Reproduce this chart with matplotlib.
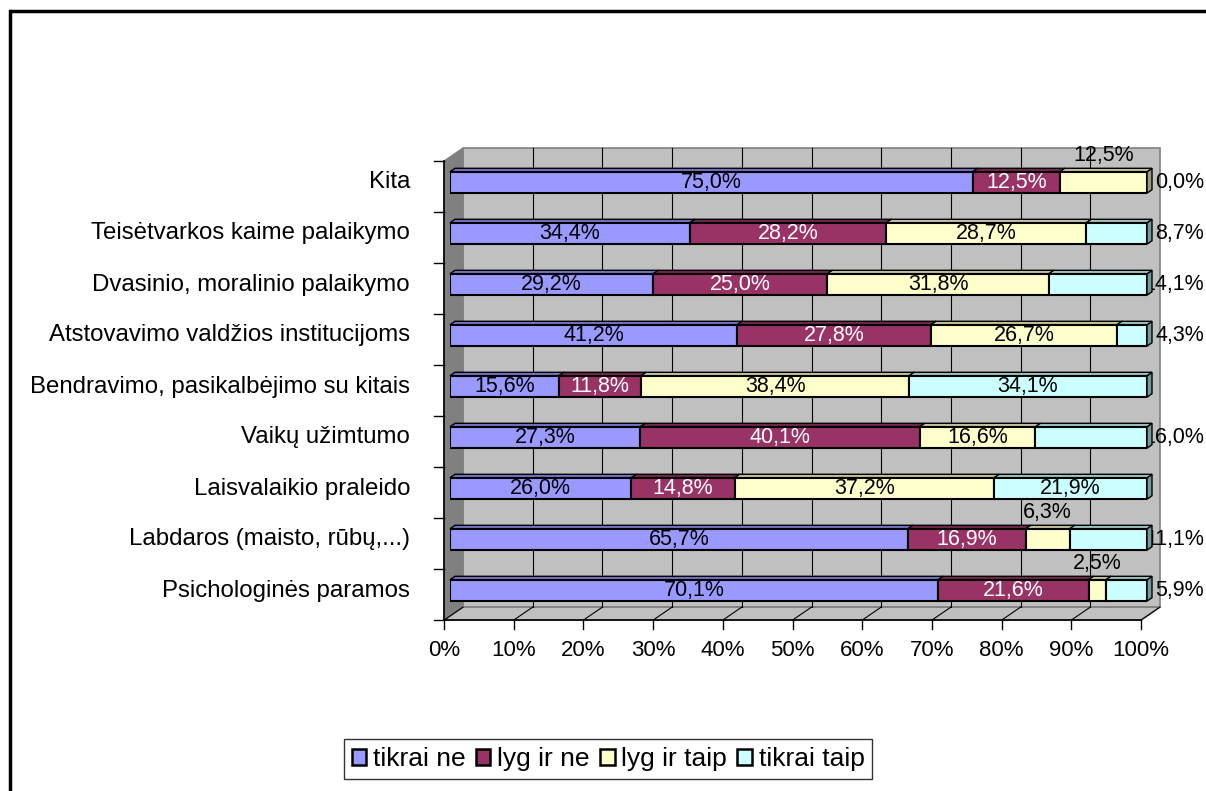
# stacked 100% bar chart with a fake 3D look (excel style)

import matplotlib.pyplot as plt
from matplotlib.patches import Polygon, Rectangle, Patch

plt.rcParams['font.family'] = ['Liberation Sans', 'DejaVu Sans']

# data, bottom row first
categories = ["Psichologinės paramos", "Labdaros (maisto, rūbų,...)", "Laisvalaikio praleido",
              "Vaikų užimtumo", "Bendravimo, pasikalbėjimo su kitais",
              "Atstovavimo valdžios institucijoms", "Dvasinio, moralinio palaikymo",
              "Teisėtvarkos kaime palaikymo", "Kita"]
tikrai_ne = [70.1, 65.7, 26.0, 27.3, 15.6, 41.2, 29.2, 34.4, 75.0]
lyg_ir_ne = [21.6, 16.9, 14.8, 40.1, 11.8, 27.8, 25.0, 28.2, 12.5]
lyg_ir_taip = [2.5, 6.3, 37.2, 16.6, 38.4, 26.7, 31.8, 28.7, 12.5]
tikrai_taip = [5.9, 11.1, 21.9, 16.0, 34.1, 4.3, 14.1, 8.7, 0.0]
series_names = ["tikrai ne", "lyg ir ne", "lyg ir taip", "tikrai taip"]
x_ticks = [0, 10, 20, 30, 40, 50, 60, 70, 80, 90, 100]

series = [tikrai_ne, lyg_ir_ne, lyg_ir_taip, tikrai_taip]

# where the value label goes: in the bar, above it or right of it
label_pos = [
    ['in'] * 9,
    ['in'] * 9,
    ['above', 'above', 'in', 'in', 'in', 'in', 'in', 'in', 'above'],
    ['right', 'right', 'in', 'right', 'in', 'right', 'right', 'right', 'right'],
]

fronts = ['#9999ff', '#993366', '#ffffcc', '#ccffff']
tops = ['#7070c0', '#70264a', '#c0c099', '#99c0c0']
sides = ['#5c5ca0', '#5c1f3d', '#9a9a7a', '#6f9a9a']
text_cols = ['black', 'white', 'black', 'black']

FS_VAL = 15.5   # value labels
FS_CAT = 17.3   # category names
FS_TICK = 16    # x tick labels
FS_LEG = 19     # legend

fig = plt.figure(figsize=(12.06, 7.91), dpi=100)
# axes = front plane of the bars
ax = fig.add_axes([450 / 1206, (791 - 616) / 791, 697 / 1206, 459 / 791])
ax.set_xlim(0, 100)
ax.set_ylim(-0.5, 8.5)
ax.axis('off')

# pixel -> data unit helpers
PX_X = 697 / 100
PX_Y = 459 / 9


def off(px, py):
    return px / PX_X, py / PX_Y


wx, wy = off(13, 8.9)     # back wall
fx, fy = off(-6, -4.1)    # floor front edge
bx, by = off(5, 3.5)      # bar depth

ymin, ymax = -0.5, 8.5

# walls and floor
ax.add_patch(Rectangle((wx, ymin + wy), 100, ymax - ymin, fc='#c0c0c0', ec='#808080', lw=1.2,
                       zorder=1, clip_on=False))
ax.add_patch(Polygon([(fx, ymin + fy), (100 + fx, ymin + fy), (100 + wx, ymin + wy), (wx, ymin + wy)],
                     fc='#c0c0c0', ec='#808080', lw=1.2, zorder=1, clip_on=False))
ax.add_patch(Polygon([(fx, ymin + fy), (fx, ymax + fy), (wx, ymax + wy), (wx, ymin + wy)],
                     fc='#808080', ec='#808080', lw=1, zorder=1, clip_on=False))

# gridlines on the wall and on the floor
for t in x_ticks:
    if 0 < t < 100:
        ax.plot([t + wx, t + wx], [ymin + wy, ymax + wy], color='black', lw=0.8, zorder=2, clip_on=False)
    ax.plot([t + fx, t + wx], [ymin + fy, ymin + wy], color='black', lw=0.8, zorder=2, clip_on=False)
    # tick mark + label on the front edge
    ax.plot([t + fx, t + fx], [ymin + fy, ymin + fy - 9 / PX_Y], color='black', lw=1, zorder=2,
            clip_on=False)
    ax.text(t + fx, ymin + fy - 30 / PX_Y, f"{t}%", ha='center', va='center', fontsize=FS_TICK)

# axis lines
ax.plot([fx, 100 + fx], [ymin + fy, ymin + fy], color='black', lw=1.2, zorder=2, clip_on=False)
ax.plot([fx, fx], [ymin + fy, ymax + fy], color='black', lw=1.2, zorder=2, clip_on=False)
for k in range(len(categories) + 1):
    yb = k - 0.5 + fy
    ax.plot([fx - 10 / PX_X, fx], [yb, yb], color='black', lw=1, zorder=2, clip_on=False)

# category labels
for i, c in enumerate(categories):
    ax.text(-40 / PX_X, i, c, ha='right', va='center', fontsize=FS_CAT)

# bars
h = 0.42
for i in range(len(categories)):
    total = sum(s[i] for s in series)
    left = 0
    for j, s in enumerate(series):
        w = s[i] / total * 100
        if w > 0:
            ax.barh(i, w, left=left, height=h, color=fronts[j], edgecolor='black', lw=1.5, zorder=5)
            yt = i + h / 2
            ax.add_patch(Polygon([(left, yt), (left + w, yt), (left + w + bx, yt + by), (left + bx, yt + by)],
                                 fc=tops[j], ec='black', lw=1, zorder=4.5, clip_on=False))
            xr = left + w
            ax.add_patch(Polygon([(xr, i - h / 2), (xr + bx, i - h / 2 + by), (xr + bx, yt + by), (xr, yt)],
                                 fc=sides[j], ec='black', lw=1, zorder=4, clip_on=False))
        lab = f"{s[i]:.1f}%".replace('.', ',')
        pos = label_pos[j][i]
        if pos == 'in':
            ax.text(left + w / 2, i, lab, ha='center', va='center', fontsize=FS_VAL, color=text_cols[j],
                    zorder=6)
        elif pos == 'above':
            ax.text(left + w / 2, i + 0.52, lab, ha='center', va='center', fontsize=FS_VAL, zorder=6)
        else:
            ax.text(100 + 57 / PX_X, i, lab, ha='right', va='center', fontsize=FS_VAL, zorder=3)
        left += w

# legend
handles = [Patch(fc=fronts[j], ec='black', lw=1.8) for j in range(4)]
fig.legend(handles, series_names, loc='center', bbox_to_anchor=(608 / 1206, (791 - 759) / 791),
           ncol=4, frameon=True, fancybox=False, edgecolor='black', fontsize=FS_LEG,
           handlelength=0.55, handleheight=0.55, handletextpad=0.25, columnspacing=0.4, borderpad=0.3)

# outer frame of the chart object
fig.patches.append(Rectangle((10 / 1206, -0.1), 1.2, 780 / 791 + 0.1, transform=fig.transFigure,
                             fill=False, ec='black', lw=2.5))

fig.savefig('out.png', dpi=100)
